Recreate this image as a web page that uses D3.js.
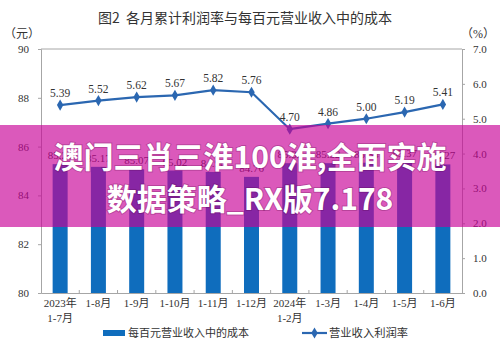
<!DOCTYPE html>
<html>
<head>
<meta charset="utf-8">
<script src="https://cdn.jsdelivr.net/npm/d3@7"></script>
<style>
  body { margin: 0; background: #fff; }
  svg text { font-family: "Liberation Serif", "Noto Sans CJK SC", serif; fill: #333; }
</style>
</head>
<body>
<div id="chart"></div>
<script>
// categories (two-line tick labels)
const months = ['2023年|1-7月', '1-8月', '1-9月', '1-10月', '1-11月', '1-12月',
                '2024年|1-2月', '1-3月', '1-4月', '1-5月', '1-6月'];
// 每百元营业收入中的成本 (元)
const costValues = [85.28, 85.17, 85.07, 85.02, 84.96, 84.76, 85.32, 85.32, 85.34, 85.37, 85.27];
// 营业收入利润率 (%)
const marginValues = [5.39, 5.52, 5.62, 5.67, 5.82, 5.76, 4.70, 4.86, 5.00, 5.19, 5.41];
const leftTicks = [80, 82, 84, 86, 88, 90];
const rightTicks = [0, 1, 2, 3, 4, 5, 6, 7];

const W = 500, H = 354;
const plot = {left: 41, right: 462, top: 49, bottom: 293};
const barColor = '#0f6dbd', lineColor = '#2b67b1', axisColor = '#a6a6a6';

const svg = d3.select('#chart').append('svg')
    .attr('width', W).attr('height', H);

const x = d3.scaleBand().domain(months).range([plot.left, plot.right]);
const yL = d3.scaleLinear().domain([80, 90]).range([plot.bottom, plot.top]);
const yR = d3.scaleLinear().domain([0, 7]).range([plot.bottom, plot.top]);
const cx = d => x(d) + x.bandwidth() / 2;
const barW = 15;

// title
svg.append('text')
    .attr('x', 245).attr('y', 23)
    .attr('text-anchor', 'middle')
    .style('font-family', '"Noto Sans CJK SC", sans-serif')
    .style('font-size', '14px')
    .style('white-space', 'pre')
    .text('图2  各月累计利润率与每百元营业收入中的成本');

svg.append('text').attr('x', 22).attr('y', 38).attr('text-anchor', 'middle')
    .style('font-size', '12px').text('（元）');
svg.append('text').attr('x', 478).attr('y', 38).attr('text-anchor', 'middle')
    .style('font-size', '12px').text('（%）');

// frame top
svg.append('line')
    .attr('x1', plot.left).attr('x2', plot.right)
    .attr('y1', plot.top).attr('y2', plot.top)
    .attr('stroke', axisColor);

// left axis
const gL = svg.append('g')
    .attr('transform', `translate(${plot.left},0)`)
    .call(d3.axisLeft(yL).tickValues(leftTicks).tickSize(3).tickPadding(9));
// right axis
const gR = svg.append('g')
    .attr('transform', `translate(${plot.right},0)`)
    .call(d3.axisRight(yR).tickValues(rightTicks).tickSize(3).tickPadding(8));
[gL, gR].forEach(g => {
    g.select('.domain').attr('stroke', axisColor);
    g.selectAll('.tick line').attr('stroke', axisColor);
    g.selectAll('.tick text').style('font-size', '11px').attr('fill', '#333')
        .style('font-family', '"Liberation Serif", serif');
});

// bottom axis
const gB = svg.append('g')
    .attr('transform', `translate(0,${plot.bottom})`)
    .call(d3.axisBottom(x).tickSize(0).tickPadding(12).tickFormat(''));
gB.select('.domain').attr('stroke', axisColor);
gB.selectAll('.tick').each(function(d) {
    const parts = d.split('|');
    const t = d3.select(this).select('text')
        .style('font-size', '11px').attr('fill', '#333')
        .style('font-family', '"Liberation Serif", "Noto Sans CJK SC", serif');
    parts.forEach((p, i) => {
        t.append('tspan').attr('x', 0).attr('dy', i === 0 ? '0.2em' : '1.35em').text(p);
    });
});
// boundary ticks
svg.append('g').selectAll('line')
    .data(months.slice(1))
    .join('line')
    .attr('x1', d => x(d)).attr('x2', d => x(d))
    .attr('y1', plot.bottom).attr('y2', plot.bottom - 3)
    .attr('stroke', axisColor);

// bars
svg.append('g').selectAll('rect')
    .data(months)
    .join('rect')
    .attr('x', d => cx(d) - barW / 2)
    .attr('width', barW)
    .attr('y', (d, i) => yL(costValues[i]))
    .attr('height', (d, i) => plot.bottom - yL(costValues[i]))
    .attr('fill', barColor);

svg.append('g').selectAll('text')
    .data(months)
    .join('text')
    .attr('x', d => cx(d))
    .attr('y', (d, i) => yL(costValues[i]) - 5)
    .attr('text-anchor', 'middle')
    .style('font-size', '11px')
    .text((d, i) => costValues[i].toFixed(2));

// line
const line = d3.line().x(d => cx(d)).y((d, i) => yR(marginValues[i]));
svg.append('path')
    .datum(months)
    .attr('d', line)
    .attr('fill', 'none')
    .attr('stroke', lineColor)
    .attr('stroke-width', 2.2);

const diamond = d3.symbol().type(d3.symbolDiamond).size(36);
svg.append('g').selectAll('path')
    .data(months)
    .join('path')
    .attr('d', diamond)
    .attr('transform', (d, i) => `translate(${cx(d)},${yR(marginValues[i])})`)
    .attr('fill', lineColor);

svg.append('g').selectAll('text')
    .data(months)
    .join('text')
    .attr('x', d => cx(d))
    .attr('y', (d, i) => yR(marginValues[i]) - 8)
    .attr('text-anchor', 'middle')
    .style('font-size', '11.5px')
    .text((d, i) => marginValues[i].toFixed(2));

// legend
const lg = svg.append('g');
lg.append('rect').attr('x', 103).attr('y', 330).attr('width', 22).attr('height', 6).attr('fill', barColor);
lg.append('text').attr('x', 128).attr('y', 337)
    .style('font-size', '11px').style('font-family', '"Noto Sans CJK SC", serif')
    .text('每百元营业收入中的成本');
lg.append('line').attr('x1', 302).attr('x2', 327).attr('y1', 333).attr('y2', 333)
    .attr('stroke', lineColor).attr('stroke-width', 2.2);
lg.append('path').attr('d', diamond).attr('transform', 'translate(314.5,333)').attr('fill', lineColor);
lg.append('text').attr('x', 329).attr('y', 337)
    .style('font-size', '11.3px').style('font-family', '"Noto Sans CJK SC", serif')
    .text('营业收入利润率');

// overlay banner
svg.append('rect')
    .attr('x', 0).attr('y', 125).attr('width', W).attr('height', 102)
    .attr('fill', 'rgba(200, 0, 150, 0.65)');
const banner = ['澳门三肖三淮100淮,全面实施', '数据策略_RX版7.178'];
svg.append('g').selectAll('text')
    .data(banner)
    .join('text')
    .attr('x', 250)
    .attr('y', (d, i) => 168 + i * 42)
    .attr('text-anchor', 'middle')
    .style('font-family', '"Noto Sans CJK SC", sans-serif')
    .style('font-weight', 'bold')
    .style('font-size', '30px')
    .style('fill', '#fff')
    .style('paint-order', 'stroke')
    .style('stroke', 'rgba(80,0,60,0.25)')
    .style('stroke-width', '2px')
    .text(d => d);
</script>
</body>
</html>
